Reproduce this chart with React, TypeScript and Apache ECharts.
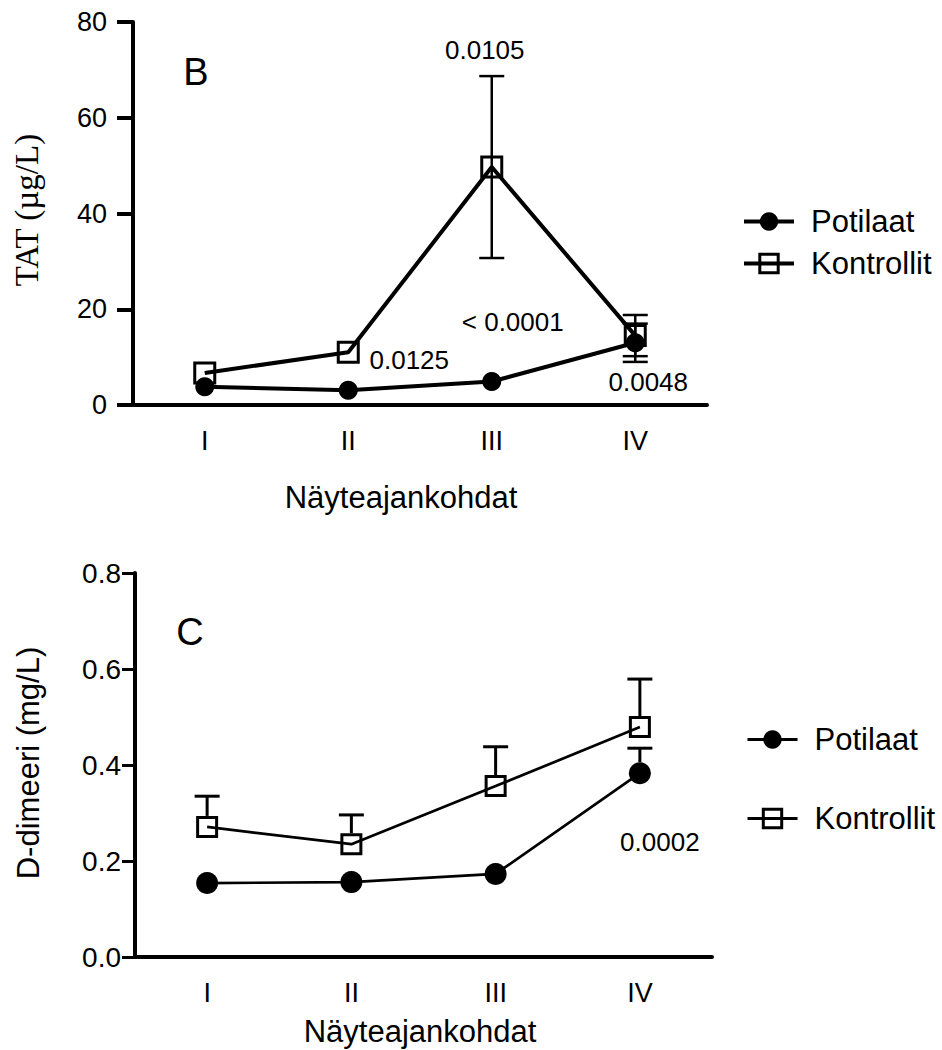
import React, { useEffect, useRef } from 'react';
import * as echarts from 'echarts';

// ---------- data ----------
const categories = ['I', 'II', 'III', 'IV'];
const seriesNames = ['Potilaat', 'Kontrollit'];

// Panel B: TAT (µg/L)
const tatPotilaat = [3.8, 3.1, 4.9, 13.0];
const tatPotilaatErr = [0, 0, 0, 4.0];
const tatKontrollit = [6.7, 11.0, 49.7, 14.5];
const tatKontrollitErr = [0, 0, 19.0, 4.3];
const tatNoteTexts = ['0.0105', '0.0125', '< 0.0001', '0.0048'];
const tatNoteCats = [2, 1, 2, 3];
const tatNoteValues = [74.1, 9.4, 17.3, 4.8];

// Panel C: D-dimeeri (mg/L)
const ddPotilaat = [0.154, 0.156, 0.173, 0.383];
const ddPotilaatErr = [0, 0, 0, 0.052];
const ddKontrollit = [0.271, 0.235, 0.356, 0.479];
const ddKontrollitErr = [0.064, 0.061, 0.082, 0.1];
const ddNoteTexts = ['0.0002'];
const ddNoteCats = [3];
const ddNoteValues = [0.24];

// ---------- styling ----------
const SANS = '"Liberation Sans", Arial, Helvetica, sans-serif';
const SERIF = '"Liberation Serif", "Times New Roman", serif';
const tatNoteOffsets = [-7, 61, 21, 13];
const ddNoteOffsets = [20];

function errorSeries(gi: number, means: number[], errs: number[], both: boolean, gap: number, width: number, half: number) {
  return {
    type: 'custom',
    xAxisIndex: gi,
    yAxisIndex: gi,
    silent: true,
    z: 2,
    data: means.map((m, i) => [i, m, errs[i]]).filter((d) => d[2] > 0),
    encode: { x: 0, y: 1 },
    renderItem: (_params: any, api: any) => {
      const idx = api.value(0);
      const m = api.value(1);
      const e = api.value(2);
      const pm = api.coord([idx, m]);
      const ph = api.coord([idx, m + e]);
      const pl = api.coord([idx, m - e]);
      const style = { stroke: '#000', lineWidth: width };
      const children: any[] = [
        { type: 'line', shape: { x1: ph[0], y1: ph[1], x2: ph[0], y2: both ? pl[1] : pm[1] - gap }, style },
        { type: 'line', shape: { x1: ph[0] - half, y1: ph[1], x2: ph[0] + half, y2: ph[1] }, style },
      ];
      if (both) {
        children.push({ type: 'line', shape: { x1: pl[0] - half, y1: pl[1], x2: pl[0] + half, y2: pl[1] }, style });
      }
      return { type: 'group', children };
    },
  };
}

function noteSeries(gi: number, cats: number[], vals: number[], texts: string[], offs: number[]) {
  const lbl = { show: true, position: 'inside', fontSize: 26, fontFamily: SANS, color: '#000', textBorderWidth: 0, opacity: 1 };
  return {
    type: 'scatter',
    xAxisIndex: gi,
    yAxisIndex: gi,
    silent: true,
    z: 6,
    symbolSize: 1,
    itemStyle: { color: 'rgba(0,0,0,0)' },
    data: cats.map((c, i) => ({ value: [c, vals[i]], label: { ...lbl, offset: [offs[i], 0] } })),
    label: { ...lbl, formatter: (p: any) => texts[p.dataIndex] },
    emphasis: { disabled: true },
  };
}

function lineSeries(gi: number, name: string, data: number[], lw: number, circleSize: number, rectSize: number) {
  const isCircle = name === seriesNames[0];
  return {
    type: 'line',
    name,
    xAxisIndex: gi,
    yAxisIndex: gi,
    data,
    symbol: isCircle ? 'circle' : 'rect',
    symbolSize: isCircle ? circleSize : rectSize,
    showAllSymbol: true,
    z: 3,
    lineStyle: { color: '#000', width: lw },
    itemStyle: isCircle
      ? { color: '#000' }
      : { color: 'transparent', borderColor: '#000', borderWidth: 3 },
    emphasis: { disabled: true },
  };
}

const axisLabelBase = { color: '#000', fontFamily: SANS, fontSize: 27 };

function legendOf(left: number, top: number, gap: number, lw: number) {
  return {
    left,
    top,
    padding: 0,
    orient: 'vertical',
    itemWidth: 50,
    itemHeight: 23,
    itemGap: gap,
    selectedMode: false,
    lineStyle: { width: lw },
    data: [{ name: seriesNames[0] }, { name: seriesNames[1], itemStyle: { borderWidth: 3 } }],
    textStyle: { color: '#000', fontFamily: SANS, fontSize: 31, lineHeight: 30, padding: [0, 0, 0, 12] },
  };
}

export default function App() {
  const ref = useRef<HTMLDivElement>(null);
  useEffect(() => {
    if (!ref.current) return;
    const chart = echarts.init(ref.current, undefined, { renderer: 'svg' });
    const option: any = {
      animation: false,
      backgroundColor: '#fff',
      grid: [
        { left: 133, top: 22, width: 574, height: 383 },
        { left: 135, top: 573, width: 577, height: 384 },
      ],
      xAxis: [0, 1].map((i) => ({
        type: 'category',
        gridIndex: i,
        data: categories,
        boundaryGap: true,
        axisLine: { lineStyle: { color: '#000', width: 4 } },
        axisTick: { show: false },
        axisLabel: { ...axisLabelBase, margin: 22 },
        splitLine: { show: false },
      })),
      yAxis: [
        {
          type: 'value',
          gridIndex: 0,
          min: 0,
          max: 80,
          interval: 20,
          axisLine: { show: true, lineStyle: { color: '#000', width: 4 } },
          axisTick: { show: true, length: 16, lineStyle: { color: '#000', width: 4 } },
          axisLabel: { ...axisLabelBase, margin: 26 },
          splitLine: { show: false },
        },
        {
          type: 'value',
          gridIndex: 1,
          min: 0,
          max: 0.8,
          interval: 0.2,
          axisLine: { show: true, lineStyle: { color: '#000', width: 4 } },
          axisTick: { show: true, length: 13, lineStyle: { color: '#000', width: 3 } },
          axisLabel: { ...axisLabelBase, fontSize: 28, margin: 14, formatter: (v: number) => v.toFixed(1) },
          splitLine: { show: false },
        },
      ],
      legend: [legendOf(742, 206, 11, 4), legendOf(746, 724, 48, 3)],
      series: [
        errorSeries(0, tatKontrollit, tatKontrollitErr, true, 0, 2.5, 12.5),
        errorSeries(0, tatPotilaat, tatPotilaatErr, true, 0, 2.5, 12.5),
        lineSeries(0, seriesNames[0], tatPotilaat, 4, 19, 20),
        lineSeries(0, seriesNames[1], tatKontrollit, 4, 19, 20),
        noteSeries(0, tatNoteCats, tatNoteValues, tatNoteTexts, tatNoteOffsets),
        errorSeries(1, ddKontrollit, ddKontrollitErr, false, 11, 3, 12.5),
        errorSeries(1, ddPotilaat, ddPotilaatErr, false, 11, 3, 12.5),
        lineSeries(1, seriesNames[0], ddPotilaat, 2.7, 22, 19),
        lineSeries(1, seriesNames[1], ddKontrollit, 2.7, 22, 19),
        noteSeries(1, ddNoteCats, ddNoteValues, ddNoteTexts, ddNoteOffsets),
      ],
      graphic: [
        { type: 'text', x: 196, y: 72, style: { text: 'B', fill: '#000', fontSize: 38, fontFamily: SANS, align: 'center', verticalAlign: 'middle' } },
        { type: 'text', x: 190, y: 632, style: { text: 'C', fill: '#000', fontSize: 38, fontFamily: SANS, align: 'center', verticalAlign: 'middle' } },
        { type: 'text', x: 27, y: 210, rotation: Math.PI / 2, style: { text: 'TAT (µg/L)', fill: '#000', fontSize: 33, fontFamily: SERIF, align: 'center', verticalAlign: 'middle' } },
        { type: 'text', x: 28, y: 763, rotation: Math.PI / 2, style: { text: 'D-dimeeri (mg/L)', fill: '#000', fontSize: 31, fontFamily: SANS, align: 'center', verticalAlign: 'middle' } },
        { type: 'text', x: 401, y: 497, style: { text: 'Näyteajankohdat', fill: '#000', fontSize: 31, fontFamily: SANS, align: 'center', verticalAlign: 'middle' } },
        { type: 'text', x: 420, y: 1031, style: { text: 'Näyteajankohdat', fill: '#000', fontSize: 31, fontFamily: SANS, align: 'center', verticalAlign: 'middle' } },
      ],
    };
    chart.setOption(option);
    return () => chart.dispose();
  }, []);
  return <div ref={ref} style={{ position: 'absolute', left: 0, top: 0, width: 942, height: 1050, background: '#fff' }} />;
}
